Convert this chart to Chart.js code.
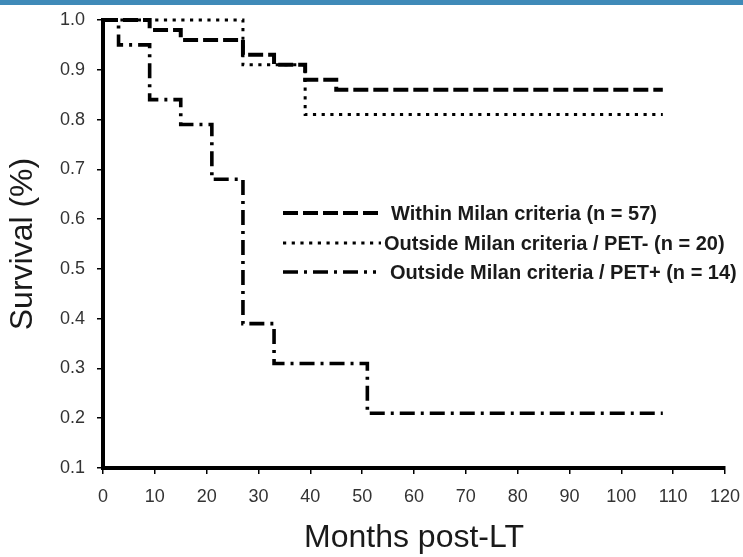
<!DOCTYPE html>
<html>
<head>
<meta charset="utf-8">
<script src="https://cdn.jsdelivr.net/npm/chart.js@4/dist/chart.umd.min.js"></script>
<style>
  html, body { margin: 0; padding: 0; background: #fff; overflow: hidden; }
  #wrap { position: relative; width: 743px; height: 557px; }
</style>
</head>
<body>
<div id="wrap"><canvas id="c"></canvas></div>
<script>
// ---- data ----
const xTicks = [0, 10, 20, 30, 40, 50, 60, 70, 80, 90, 100, 110, 120];
const yTicks = [0.1, 0.2, 0.3, 0.4, 0.5, 0.6, 0.7, 0.8, 0.9, 1.0];

const seriesLabels = [
  'Within Milan criteria (n = 57)',
  'Outside Milan criteria / PET- (n = 20)',
  'Outside Milan criteria / PET+ (n = 14)'
];

const withinMonths   = [0, 9, 15, 27, 33, 39, 45, 108];
const withinSurvival = [1.0, 0.98, 0.96, 0.93, 0.91, 0.88, 0.86, 0.86];

const petNegMonths   = [0, 27, 39, 108];
const petNegSurvival = [1.0, 0.91, 0.81, 0.81];

const petPosMonths   = [0, 3, 9, 15, 21, 27, 33, 51, 108];
const petPosSurvival = [1.0, 0.95, 0.84, 0.79, 0.68, 0.39, 0.31, 0.21, 0.21];

const toPoints = (xs, ys) => xs.map((x, i) => ({ x: x, y: ys[i] }));

const FONT = '"Liberation Sans", Arial, Helvetica, sans-serif';

const topBar = {
  id: 'topBar',
  beforeDraw(chart) {
    const ctx = chart.ctx;
    ctx.save();
    ctx.fillStyle = '#3f8ab8';
    ctx.fillRect(0, 0, chart.width, 5);
    ctx.restore();
  }
};

const kmLegend = {
  id: 'kmLegend',
  afterDatasetsDraw(chart, args, opts) {
    const ctx = chart.ctx;
    chart.data.datasets.forEach((ds, i) => {
      const it = opts.items[i];
      ctx.save();
      ctx.strokeStyle = ds.borderColor;
      ctx.lineWidth = ds.borderWidth;
      ctx.setLineDash(ds.borderDash || []);
      ctx.lineCap = 'butt';
      ctx.beginPath();
      ctx.moveTo(it.x0, it.y);
      ctx.lineTo(it.x1, it.y);
      ctx.stroke();
      ctx.setLineDash([]);
      ctx.fillStyle = '#1a1a1a';
      ctx.font = 'bold 20px ' + FONT;
      ctx.textBaseline = 'middle';
      ctx.textAlign = 'left';
      ctx.fillText(ds.label, it.tx, it.y + 1);
      ctx.restore();
    });
  }
};

const lineBase = {
  stepped: 'before',
  fill: false,
  pointRadius: 0,
  pointHoverRadius: 0,
  borderColor: '#000',
  clip: false,
  tension: 0
};

new Chart(document.getElementById('c'), {
  type: 'line',
  data: {
    datasets: [
      Object.assign({}, lineBase, {
        label: seriesLabels[0],
        data: toPoints(withinMonths, withinSurvival),
        borderWidth: 4,
        borderDash: [15, 5]
      }),
      Object.assign({}, lineBase, {
        label: seriesLabels[1],
        data: toPoints(petNegMonths, petNegSurvival),
        borderWidth: 3,
        borderDash: [3.2, 5.5]
      }),
      Object.assign({}, lineBase, {
        label: seriesLabels[2],
        data: toPoints(petPosMonths, petPosSurvival),
        borderWidth: 3.6,
        borderDash: [15, 6, 3, 6]
      })
    ]
  },
  plugins: [topBar, kmLegend],
  options: {
    responsive: true,
    maintainAspectRatio: false,
    devicePixelRatio: 1,
    animation: false,
    events: [],
    layout: { padding: { left: 0, right: 18, top: 20, bottom: 0 } },
    plugins: {
      legend: { display: false },
      tooltip: { enabled: false },
      kmLegend: {
        items: [
          { x0: 283, x1: 378, y: 213, tx: 391 },
          { x0: 283, x1: 381, y: 243, tx: 384 },
          { x0: 283, x1: 376, y: 272, tx: 390 }
        ]
      }
    },
    scales: {
      x: {
        type: 'linear',
        min: xTicks[0],
        max: xTicks[xTicks.length - 1],
        afterBuildTicks(s) { s.ticks = xTicks.map(v => ({ value: v })); },
        afterFit(s) { s.paddingLeft = 0; s.paddingRight = 0; s.height = 89; },
        ticks: {
          autoSkip: false,
          maxRotation: 0,
          padding: 12,
          color: '#333',
          font: { family: FONT, size: 18 },
          callback: v => String(v)
        },
        grid: {
          display: true,
          drawOnChartArea: false,
          drawTicks: true,
          tickLength: 6,
          color: '#000',
          lineWidth: 1.5
        },
        border: { display: true, color: '#000', width: 4 },
        title: {
          display: true,
          text: 'Months post-LT',
          color: '#1a1a1a',
          font: { family: FONT, size: 32 },
          padding: { top: 0, bottom: 0 }
        }
      },
      y: {
        type: 'linear',
        min: yTicks[0],
        max: yTicks[yTicks.length - 1],
        afterBuildTicks(s) { s.ticks = yTicks.map(v => ({ value: v })); },
        afterFit(s) { s.paddingTop = 0; s.paddingBottom = 0; s.width = 103; },
        ticks: {
          autoSkip: false,
          padding: 12,
          color: '#333',
          font: { family: FONT, size: 18 },
          callback: v => Number(v).toFixed(1)
        },
        grid: {
          display: true,
          drawOnChartArea: false,
          drawTicks: true,
          tickLength: 6,
          color: '#000',
          lineWidth: 1.5
        },
        border: { display: true, color: '#000', width: 4 },
        title: {
          display: true,
          text: 'Survival (%)',
          color: '#1a1a1a',
          font: { family: FONT, size: 32 },
          padding: { top: 4, bottom: 0 }
        }
      }
    }
  }
});
</script>
</body>
</html>
